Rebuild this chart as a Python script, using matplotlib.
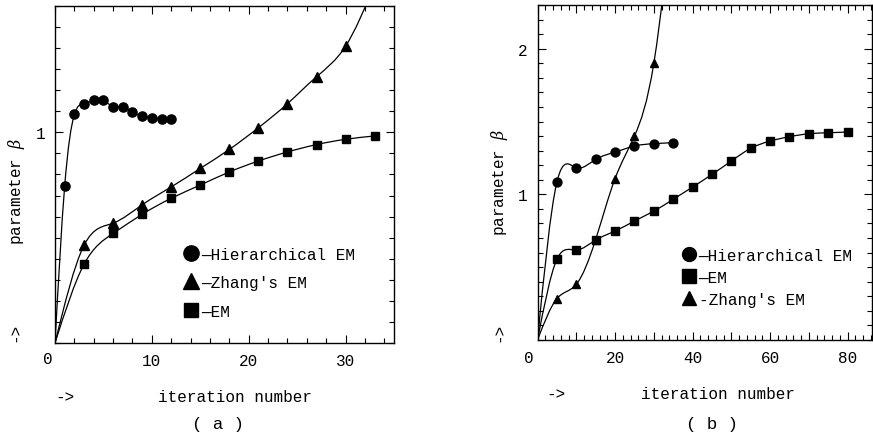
import matplotlib
matplotlib.use("Agg")
import matplotlib.pyplot as plt
import numpy as np
from matplotlib.path import Path
from matplotlib.patches import PathPatch
from matplotlib.lines import Line2D
from matplotlib.ticker import MultipleLocator, FixedLocator, FuncFormatter

plt.rcParams['font.family'] = ['Liberation Mono', 'DejaVu Sans']
plt.rcParams['mathtext.fontset'] = 'dejavuserif'

# (a) estimates per iteration
hier_a_x = [1, 2, 3, 4, 5, 6, 7, 8, 9, 10, 11, 12]
hier_a_y = [0.745, 1.085, 1.137, 1.152, 1.152, 1.122, 1.122, 1.096, 1.077, 1.068, 1.065, 1.062]
zhang_a_x = [3, 6, 9, 12, 15, 18, 21, 24, 27, 30]
zhang_a_y = [0.464, 0.569, 0.656, 0.741, 0.829, 0.919, 1.022, 1.136, 1.264, 1.409]
zhang_a_tail = ([33], [1.70])
em_a_x = [3, 6, 9, 12, 15, 18, 21, 24, 27, 30, 33]
em_a_y = [0.374, 0.520, 0.611, 0.687, 0.750, 0.812, 0.864, 0.907, 0.942, 0.967, 0.983]

# (b) estimates every 5 iterations
hier_b_x = [5, 10, 15, 20, 25, 30, 35]
hier_b_y = [1.084, 1.183, 1.240, 1.290, 1.332, 1.348, 1.355]
em_b_x = [5, 10, 15, 20, 25, 30, 35, 40, 45, 50, 55, 60, 65, 70, 75, 80]
em_b_y = [0.554, 0.618, 0.686, 0.748, 0.817, 0.885, 0.966, 1.050, 1.137,
          1.229, 1.316, 1.366, 1.396, 1.416, 1.423, 1.428]
zhang_b_x = [5, 10, 15, 20, 25, 30]
zhang_b_y = [0.284, 0.382, 0.690, 1.108, 1.400, 1.899]
zhang_b_tail = ([33], [2.50])


def spline_path(xs, ys):
    # natural cubic spline through the knots, written as bezier segments
    x = np.asarray(xs, float)
    y = np.asarray(ys, float)
    n = len(x)
    h = np.diff(x)
    A = np.zeros((n, n))
    r = np.zeros(n)
    A[0, 0] = A[-1, -1] = 1
    for i in range(1, n - 1):
        A[i, i - 1] = h[i - 1]
        A[i, i] = 2 * (h[i - 1] + h[i])
        A[i, i + 1] = h[i]
        r[i] = 6 * ((y[i + 1] - y[i]) / h[i] - (y[i] - y[i - 1]) / h[i - 1])
    M = np.linalg.solve(A, r)
    verts = [(x[0], y[0])]
    codes = [Path.MOVETO]
    for i in range(n - 1):
        s = (y[i + 1] - y[i]) / h[i]
        d0 = s - h[i] * (2 * M[i] + M[i + 1]) / 6
        d1 = s + h[i] * (M[i] + 2 * M[i + 1]) / 6
        verts += [(x[i] + h[i] / 3, y[i] + h[i] / 3 * d0),
                  (x[i + 1] - h[i] / 3, y[i + 1] - h[i] / 3 * d1),
                  (x[i + 1], y[i + 1])]
        codes += [Path.CURVE4] * 3
    return Path(verts, codes)


def draw(ax, xs, ys, marker, ms, tail=([], []), z=3):
    path = spline_path([0] + xs + tail[0], [0] + ys + tail[1])
    ax.add_patch(PathPatch(path, fill=False, lw=0.9, color='black', zorder=2))
    ax.plot(xs, ys, ls='none', marker=marker, ms=ms, color='black', zorder=z)


def style(ax):
    ax.tick_params(which='both', direction='in', top=True, right=True,
                   labelsize=11.5, width=0.8)
    ax.tick_params(which='major', length=6, pad=7)
    ax.tick_params(which='minor', length=3.5)
    for s in ax.spines.values():
        s.set_linewidth(1.0)


fig = plt.figure(figsize=(8.73, 4.39), dpi=100)
ax1 = fig.add_axes([0.0630, 0.2164, 0.3883, 0.7677])
ax2 = fig.add_axes([0.6157, 0.2232, 0.3832, 0.7631])

# panel (a)
draw(ax1, hier_a_x, hier_a_y, 'o', 6.6)
draw(ax1, zhang_a_x, zhang_a_y, '^', 6.8, zhang_a_tail)
draw(ax1, em_a_x, em_a_y, 's', 5.8)
ax1.set_xlim(0, 35)
ax1.set_ylim(0, 1.6)
ax1.xaxis.set_major_locator(FixedLocator([10, 20, 30]))
ax1.xaxis.set_minor_locator(MultipleLocator(2))
ax1.yaxis.set_major_locator(FixedLocator([1]))
ax1.yaxis.set_minor_locator(MultipleLocator(0.1))
style(ax1)

h_a = [Line2D([], [], ls='none', marker='o', ms=11, color='black'),
       Line2D([], [], ls='none', marker='^', ms=11, color='black'),
       Line2D([], [], ls='none', marker='s', ms=10, color='black')]
ax1.legend(h_a, ['—Hierarchical EM', "—Zhang's EM", '—EM'],
           loc='upper left', bbox_to_anchor=(0.355, 0.31), frameon=False,
           fontsize=11.5, handlelength=1.0, handletextpad=0.1,
           labelspacing=0.85, borderpad=0)

# panel (b)
draw(ax2, zhang_b_x, zhang_b_y, '^', 6.4, zhang_b_tail, z=3)
draw(ax2, hier_b_x, hier_b_y, 'o', 6.4, z=4)
draw(ax2, em_b_x, em_b_y, 's', 5.8, z=4)
ax2.set_xlim(0, 86.3)
ax2.set_ylim(0, 2.3)
ax2.xaxis.set_major_locator(MultipleLocator(10))
ax2.xaxis.set_major_formatter(FuncFormatter(
    lambda v, pos: '%d' % v if v > 0 and round(v) % 20 == 0 else ''))
ax2.xaxis.set_minor_locator(MultipleLocator(2))
ax2.yaxis.set_major_locator(FixedLocator([1, 2]))
ax2.yaxis.set_minor_locator(MultipleLocator(0.1))
style(ax2)

h_b = [Line2D([], [], ls='none', marker='o', ms=10, color='black'),
       Line2D([], [], ls='none', marker='s', ms=9.5, color='black'),
       Line2D([], [], ls='none', marker='^', ms=10, color='black')]
ax2.legend(h_b, ['—Hierarchical EM', '—EM', "-Zhang's EM"],
           loc='upper left', bbox_to_anchor=(0.405, 0.30), frameon=False,
           fontsize=11.5, handlelength=1.0, handletextpad=0.1,
           labelspacing=0.45, borderpad=0)

# axis texts
for ax, ox, oy, name, ax0, lx, nx, ly in [
        (ax1, -0.021, -0.047, '( a )', 0.0, 0.53, 0.48, -0.24),
        (ax2, -0.025, -0.051, '( b )', 0.028, 0.54, 0.52, -0.25)]:
    ax.text(ox, oy, '0', transform=ax.transAxes, ha='center', va='center', fontsize=11.5)
    ax.text(ax0, -0.16, '->', transform=ax.transAxes, ha='left', va='center', fontsize=11.5)
    ax.text(lx, -0.16, 'iteration number', transform=ax.transAxes,
            ha='center', va='center', fontsize=11.5)
    ax.text(nx, ly, name, transform=ax.transAxes, ha='center', va='center', fontsize=12.5)

fig.text(17 / 873, 1 - 192 / 439, r'parameter $\beta$', rotation=90,
         ha='center', va='center', fontsize=11.5)
fig.text(15 / 873, 1 - 332 / 439, '->', rotation=90, ha='center', va='center', fontsize=11.5)
fig.text(499 / 873, 1 - 183 / 439, r'parameter $\beta$', rotation=90,
         ha='center', va='center', fontsize=11.5)
fig.text(499 / 873, 1 - 332 / 439, '->', rotation=90, ha='center', va='center', fontsize=11.5)

fig.savefig('out.png', dpi=100)
